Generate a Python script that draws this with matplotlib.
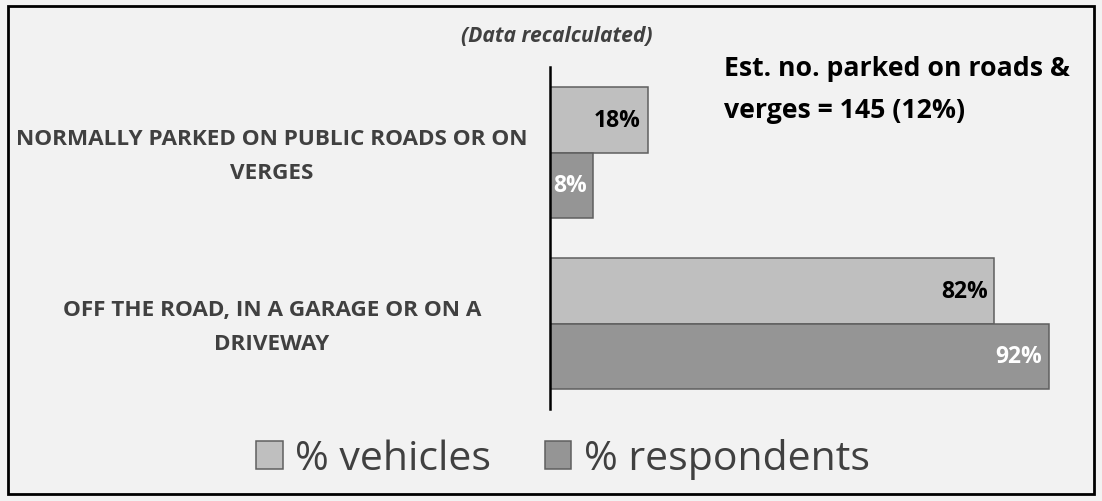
import matplotlib
matplotlib.use("Agg")
import matplotlib.pyplot as plt
import matplotlib.transforms as mtransforms
import numpy as np
from matplotlib.patches import Rectangle

categories = ["OFF THE ROAD, IN A GARAGE OR ON A\nDRIVEWAY",
              "NORMALLY PARKED ON PUBLIC ROADS OR ON\nVERGES"]
vehicles = [82, 18]
respondents = [92, 8]
series_names = ["% vehicles", "% respondents"]

plt.rcParams["font.family"] = ["Open Sans", "DejaVu Sans"]

BG = "#f2f2f2"
C_VEH = "#bfbfbf"
C_RESP = "#959595"
EDGE = "#5f5f5f"
TXT = "#404040"
W, H = 1102, 502

fig = plt.figure(figsize=(W / 100, H / 100), dpi=100, facecolor=BG)
ax = fig.add_axes([550 / W, 1 - 410 / H, 542 / W, 342 / H])
ax.set_facecolor(BG)

y = np.arange(len(categories))
h = 0.382
b1 = ax.barh(y + h / 2, vehicles, h, color=C_VEH, edgecolor=EDGE, linewidth=1.1,
             label=series_names[0])
b2 = ax.barh(y - h / 2, respondents, h, color=C_RESP, edgecolor=EDGE, linewidth=1.1,
             label=series_names[1])

# value labels just inside the bar ends
for bars, vals, col in [(b1, vehicles, "black"), (b2, respondents, "white")]:
    for bar, v in zip(bars, vals):
        ax.text(bar.get_width() - 1.2, bar.get_y() + bar.get_height() / 2, f"{v}%",
                ha="right", va="center", fontsize=16.5, fontweight="bold", color=col)

ax.set_xlim(0, 100)
ax.set_ylim(-0.5, 1.5)
ax.set_xticks([])
ax.set_yticks(y)
ax.set_yticklabels(categories, fontsize=16.2, fontweight="bold", color=TXT,
                   ha="center", multialignment="center")
ax.tick_params(axis="y", length=0, pad=0)
nudge = mtransforms.ScaledTranslation(0, -3 / 100, fig.dpi_scale_trans)
for lbl in ax.get_yticklabels():
    lbl.set_x((272 - 550) / 542)
    lbl.set_va("center")
    lbl.set_linespacing(1.85)
    lbl.set_transform(lbl.get_transform() + nudge)
for s in ["top", "right", "bottom"]:
    ax.spines[s].set_visible(False)
ax.spines["left"].set_linewidth(1.8)
ax.spines["left"].set_color("black")

fig.text(557 / W, 1 - 37 / H, "(Data recalculated)", ha="center", va="center",
         fontsize=15.2, fontstyle="italic", fontweight="bold", color=TXT)
fig.text(724 / W, 1 - 90 / H, "Est. no. parked on roads &\nverges = 145 (12%)",
         ha="left", va="center", fontsize=19.2, fontweight="bold", color="black",
         linespacing=1.75)

fig.legend(loc="center", bbox_to_anchor=(563 / W, 1 - 460 / H), ncol=2,
           frameon=False, fontsize=29.5, labelcolor=TXT, handlelength=0.65,
           handleheight=0.65, handletextpad=0.3, columnspacing=1.3)

fig.patches.append(Rectangle((8 / W, 7 / H), 1086 / W, 488 / H,
                             transform=fig.transFigure, fill=False,
                             edgecolor="black", linewidth=2))

fig.savefig("out.png", dpi=100, facecolor=BG)
